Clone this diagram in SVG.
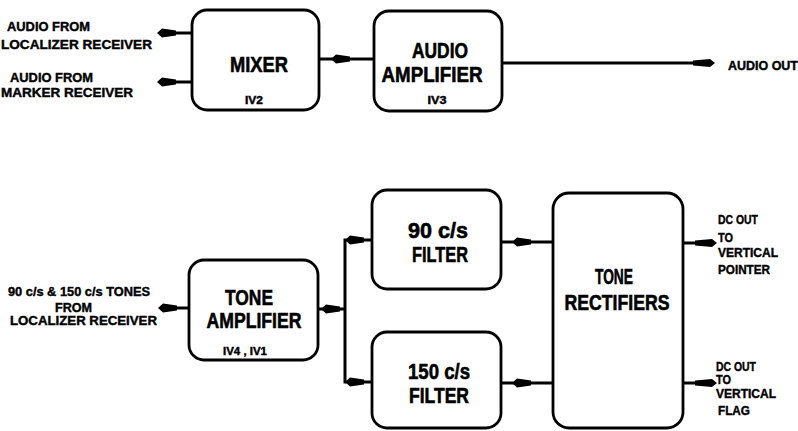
<svg xmlns="http://www.w3.org/2000/svg" width="798" height="431" viewBox="0 0 798 431">
  <style>
    .box { fill: #fff; stroke: #000; stroke-width: 2.8; }
    .ln { fill: none; stroke: #000; stroke-width: 3; stroke-linecap: butt; }
    .t { font-family: "Liberation Sans", Arial, sans-serif; font-weight: bold; fill: #000; stroke: #000; stroke-width: 0.4; }
    .big { font-size: 22px; text-anchor: middle; stroke-width: 0.6; }
    .sm { font-size: 12.5px; }
    .tiny { font-size: 10.5px; text-anchor: middle; }
  </style>
  <defs>
    <path id="ahL" d="M0,0 L5,-4.5 L19,-2.5 L19,2.5 L5,4.5 Z" fill="#000"/>
    <path id="ahR" d="M0,0 L-5,-4 L-22,-2.5 L-22,2.5 L-5,4 Z" fill="#000"/>
  </defs>

  <g id="connectors">
    <line class="ln" x1="160" y1="33" x2="192" y2="33"/>
    <use href="#ahL" x="157" y="33"/>
    <line class="ln" x1="160" y1="82" x2="192" y2="82"/>
    <use href="#ahL" x="157" y="82"/>
    <line class="ln" x1="320" y1="59" x2="373" y2="59"/>
    <use href="#ahL" x="331" y="59"/>
    <line class="ln" x1="503" y1="63" x2="700" y2="63"/>
    <use href="#ahR" x="715" y="63"/>
    <line class="ln" x1="162" y1="308" x2="188" y2="308"/>
    <use href="#ahL" x="158" y="308"/>
    <line class="ln" x1="318" y1="309" x2="345" y2="309"/>
    <use href="#ahL" x="321" y="309"/>
    <path class="ln" d="M372,240 L345,240 L345,382 L372,382" stroke-width="3.5"/>
    <use href="#ahL" x="345" y="240"/>
    <use href="#ahL" x="345" y="382"/>
    <line class="ln" x1="501" y1="242" x2="553" y2="242"/>
    <use href="#ahL" x="512" y="242"/>
    <line class="ln" x1="501" y1="383" x2="553" y2="383"/>
    <use href="#ahL" x="512" y="383"/>
    <line class="ln" x1="683" y1="243" x2="700" y2="243"/>
    <use href="#ahR" x="717" y="243"/>
    <line class="ln" x1="683" y1="383" x2="700" y2="383"/>
    <use href="#ahR" x="717" y="383"/>
  </g>

  <g id="labels-inputs">
    <text class="t sm" x="7" y="31" textLength="83" lengthAdjust="spacingAndGlyphs">AUDIO  FROM</text>
    <text class="t sm" x="1" y="48.5" textLength="151" lengthAdjust="spacingAndGlyphs">LOCALIZER  RECEIVER</text>
    <text class="t sm" x="10" y="81.5" textLength="83" lengthAdjust="spacingAndGlyphs">AUDIO  FROM</text>
    <text class="t sm" x="1" y="96.5" textLength="132" lengthAdjust="spacingAndGlyphs">MARKER  RECEIVER</text>
    <text class="t sm" x="8" y="295.5" textLength="142" lengthAdjust="spacingAndGlyphs">90 c/s &amp; 150 c/s  TONES</text>
    <text class="t sm" x="55" y="311.5" textLength="37" lengthAdjust="spacingAndGlyphs">FROM</text>
    <text class="t sm" x="10" y="324.5" textLength="147" lengthAdjust="spacingAndGlyphs">LOCALIZER  RECEIVER</text>
  </g>

  <g id="labels-outputs">
    <text class="t sm" x="728" y="69.5" textLength="70" lengthAdjust="spacingAndGlyphs">AUDIO  OUT</text>
    <text class="t sm" x="718" y="223.5" textLength="40" lengthAdjust="spacingAndGlyphs">DC  OUT</text>
    <text class="t sm" x="718" y="241.5" textLength="15" lengthAdjust="spacingAndGlyphs">TO</text>
    <text class="t sm" x="718" y="256.5" textLength="60" lengthAdjust="spacingAndGlyphs">VERTICAL</text>
    <text class="t sm" x="718" y="273.5" textLength="52" lengthAdjust="spacingAndGlyphs">POINTER</text>
    <text class="t sm" x="716" y="370.5" textLength="40" lengthAdjust="spacingAndGlyphs">DC  OUT</text>
    <text class="t sm" x="716" y="383.5" textLength="15" lengthAdjust="spacingAndGlyphs">TO</text>
    <text class="t sm" x="716" y="397.5" textLength="60" lengthAdjust="spacingAndGlyphs">VERTICAL</text>
    <text class="t sm" x="718" y="414.5" textLength="32" lengthAdjust="spacingAndGlyphs">FLAG</text>
  </g>

  <g id="mixer">
    <rect class="box" x="192" y="10" width="127" height="100" rx="15"/>
    <text class="t big" x="259" y="72" textLength="58" lengthAdjust="spacingAndGlyphs" font-size="24">MIXER</text>
    <text class="t tiny" x="254" y="104" textLength="18" lengthAdjust="spacingAndGlyphs">IV2</text>
  </g>

  <g id="audio-amplifier">
    <rect class="box" x="374" y="11" width="128" height="100" rx="15"/>
    <text class="t big" x="440" y="58" textLength="56" lengthAdjust="spacingAndGlyphs">AUDIO</text>
    <text class="t big" x="432" y="82" textLength="101" lengthAdjust="spacingAndGlyphs">AMPLIFIER</text>
    <text class="t tiny" x="437" y="104" textLength="19" lengthAdjust="spacingAndGlyphs">IV3</text>
  </g>

  <g id="tone-amplifier">
    <rect class="box" x="189" y="260" width="129" height="100" rx="15"/>
    <text class="t big" x="249" y="305" textLength="48" lengthAdjust="spacingAndGlyphs">TONE</text>
    <text class="t big" x="254" y="328" textLength="95" lengthAdjust="spacingAndGlyphs">AMPLIFIER</text>
    <text class="t tiny" x="245" y="355" textLength="44" lengthAdjust="spacingAndGlyphs">IV4 , IV1</text>
  </g>

  <g id="filter-90">
    <rect class="box" x="372" y="190" width="129" height="99" rx="15"/>
    <text class="t big" x="438" y="238" textLength="60" lengthAdjust="spacingAndGlyphs">90 c/s</text>
    <text class="t big" x="440" y="262" textLength="56" lengthAdjust="spacingAndGlyphs">FILTER</text>
  </g>

  <g id="filter-150">
    <rect class="box" x="372" y="332" width="129" height="96" rx="15"/>
    <text class="t big" x="439" y="379" textLength="62" lengthAdjust="spacingAndGlyphs" font-size="21">150 c/s</text>
    <text class="t big" x="439" y="403" textLength="60" lengthAdjust="spacingAndGlyphs" font-size="21">FILTER</text>
  </g>

  <g id="tone-rectifiers">
    <rect class="box" x="553" y="193" width="130" height="235" rx="16"/>
    <text class="t big" x="614" y="284" textLength="38" lengthAdjust="spacingAndGlyphs" font-size="19">TONE</text>
    <text class="t big" x="617" y="310" textLength="105" lengthAdjust="spacingAndGlyphs">RECTIFIERS</text>
  </g>
</svg>
